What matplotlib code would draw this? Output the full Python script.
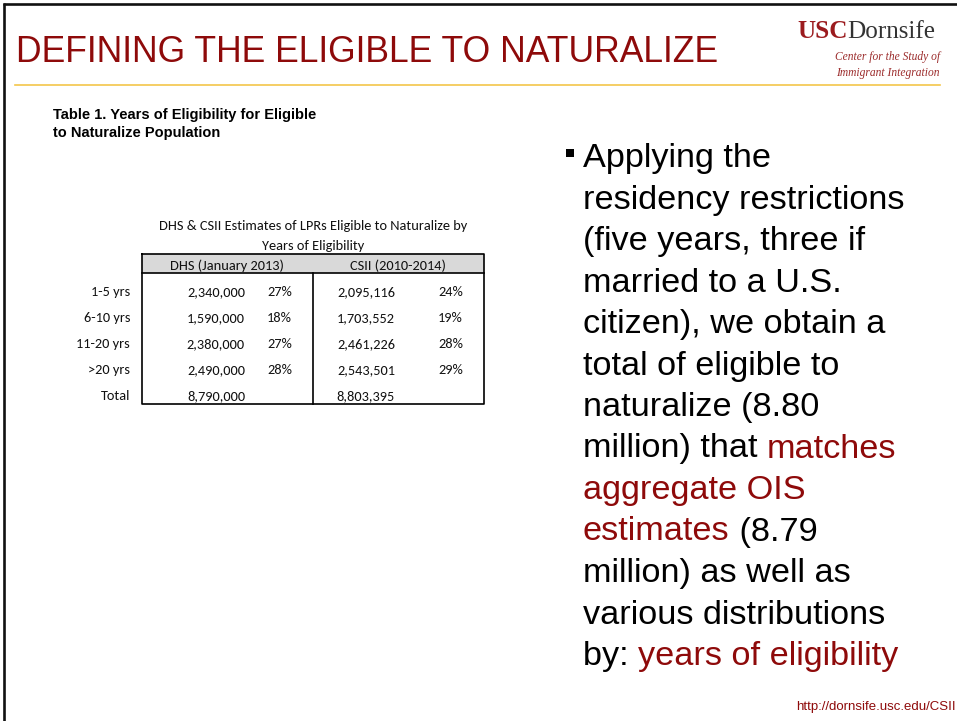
import matplotlib
matplotlib.use('Agg')
import matplotlib.pyplot as plt
from matplotlib import font_manager
from matplotlib.patches import Rectangle

W, H = 957, 721
RED = '#8E0A0A'
GOLD = '#F4C64A'

# ---------------- content ----------------
title = "DEFINING THE ELIGIBLE TO NATURALIZE"
logo_main = ["USC", "Dornsife"]
logo_sub = ["Center for the Study of", "Immigrant Integration"]
table_caption = ["Table 1. Years of Eligibility for Eligible", "to Naturalize Population"]
table_title = ["DHS & CSII Estimates of LPRs Eligible to Naturalize by", "Years of Eligibility"]
col_headers = ["DHS (January 2013)", "CSII (2010-2014)"]
row_labels = ["1-5 yrs", "6-10 yrs", "11-20 yrs", ">20 yrs", "Total"]
dhs_values = [2340000, 1590000, 2380000, 2490000, 8790000]
dhs_pct = [27, 18, 27, 28, None]
csii_values = [2095116, 1703552, 2461226, 2543501, 8803395]
csii_pct = [24, 19, 28, 29, None]
bullet_lines = [
    [("Applying the", 'k')],
    [("residency restrictions", 'k')],
    [("(five years, three if", 'k')],
    [("married to a U.S.", 'k')],
    [("citizen), we obtain a", 'k')],
    [("total of eligible to", 'k')],
    [("naturalize (8.80", 'k')],
    [("million) that ", 'k'), ("matches", RED)],
    [("aggregate OIS", RED)],
    [("estimates", RED), (" (8.79", 'k')],
    [("million) as well as", 'k')],
    [("various distributions", 'k')],
    [("by: ", 'k'), ("years of eligibility", RED)],
]
footer = "http://dornsife.usc.edu/CSII"

names = {f.name for f in font_manager.fontManager.ttflist}
NARROW = 'Liberation Sans Narrow' if 'Liberation Sans Narrow' in names else 'Liberation Sans'
SANS = 'Liberation Sans'
SERIF = 'Liberation Serif'
TABLE_FONT = 'Carlito' if 'Carlito' in names else 'Lato'

fig = plt.figure(figsize=(W / 100, H / 100), dpi=100)
ax = fig.add_axes([0, 0, 1, 1])
ax.set_xlim(0, W)
ax.set_ylim(H, 0)
ax.axis('off')
renderer = fig.canvas.get_renderer()


def width(t):
    return t.get_window_extent(renderer).width


def fit(t, target):
    t.set_fontsize(t.get_fontsize() * target / width(t))


# slide frame
ax.plot([3, W], [4, 4], color='#111111', lw=1.9, solid_capstyle='butt')
ax.plot([4, 4], [3, H], color='#111111', lw=1.9, solid_capstyle='butt')

# title
t = ax.text(16, 62, title, family=[NARROW, 'DejaVu Sans'], fontsize=27, color=RED,
            ha='left', va='baseline')
fit(t, 704)
ax.plot([15, 940], [85, 85], color=GOLD, lw=1.2)

# logo
l1 = ax.text(797, 38, logo_main[0], family=SERIF, fontweight='bold', fontsize=20,
             color='#9B1B1E', ha='left', va='baseline')
l2 = ax.text(797, 38, logo_main[1], family=SERIF, fontsize=20, color='#333333',
             ha='left', va='baseline')
tot = width(l1) + width(l2)
fs = 20 * 138 / tot
l1.set_fontsize(fs)
l2.set_fontsize(fs)
l2.set_x(797 + width(l1))
ax.text(940, 60, logo_sub[0], family=SERIF, style='italic', fontsize=8.3,
        color='#9B2B2B', ha='right', va='baseline')
ax.text(940, 76, logo_sub[1], family=SERIF, style='italic', fontsize=8.3,
        color='#9B2B2B', ha='right', va='baseline')

# table caption
c1 = ax.text(53, 119, table_caption[0], family=SANS, fontweight='bold', fontsize=10,
             color='k', ha='left', va='baseline')
fit(c1, 264)
ax.text(53, 136.5, table_caption[1], family=SANS, fontweight='bold',
        fontsize=c1.get_fontsize(), color='k', ha='left', va='baseline')

# table fonts
TFS = 10.4
tkw = dict(family=TABLE_FONT, fontsize=TFS, color='#111111', va='baseline')

# table title
ax.text(313, 230.5, table_title[0], ha='center', **tkw)
ax.text(313, 249.5, table_title[1], ha='center', **tkw)

# table box
tx0, tx1, tmid = 142, 484, 313
ty0, thead, ty1 = 254, 273, 404
ax.add_patch(Rectangle((tx0, ty0), tx1 - tx0, thead - ty0, facecolor='#D9D9D9',
                       edgecolor='none'))
lw = 1.2
ax.plot([tx0, tx1, tx1, tx0, tx0], [ty0, ty0, ty1, ty1, ty0], color='k', lw=lw)
ax.plot([tx0, tx1], [thead, thead], color='k', lw=lw)
ax.plot([tmid, tmid], [thead, ty1], color='k', lw=lw)

ax.text(227, 269.5, col_headers[0], ha='center', **tkw)
ax.text(398, 269.5, col_headers[1], ha='center', **tkw)

row_y0, row_dy = 296.5, 25.8
for i, lab in enumerate(row_labels):
    y = row_y0 + row_dy * i
    ax.text(130, y, lab, ha='right', **tkw)
    ax.text(245, y, f"{dhs_values[i]:,}", ha='right', **tkw)
    if dhs_pct[i] is not None:
        ax.text(292, y, f"{dhs_pct[i]}%", ha='right', **tkw)
    ax.text(395, y, f"{csii_values[i]:,}", ha='right', **tkw)
    if csii_pct[i] is not None:
        ax.text(463, y, f"{csii_pct[i]}%", ha='right', **tkw)

# bullet
ax.add_patch(Rectangle((566, 149), 8, 8, facecolor='k', edgecolor='none'))
by0, bdy = 167, 41.5
bx = 583
for i, segs in enumerate(bullet_lines):
    x = bx
    y = by0 + bdy * i
    for s, c in segs:
        tt = ax.text(x, y, s, family=SANS, fontsize=24.7, color=c, ha='left', va='baseline')
        x += width(tt)

# footer
ax.text(956, 707, footer, family=SANS, fontsize=9.5, color=RED, ha='right', va='center')

fig.savefig('out.png', dpi=100, facecolor='white')
